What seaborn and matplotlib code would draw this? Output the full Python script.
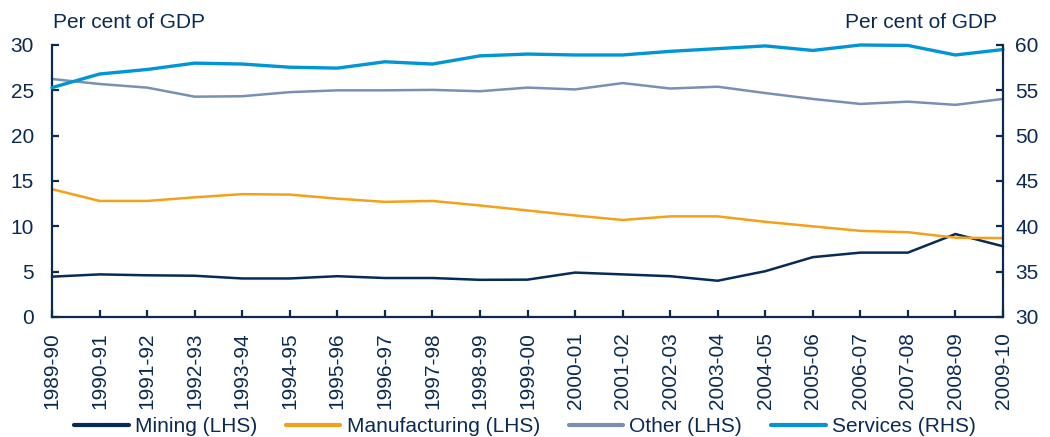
import matplotlib
matplotlib.use("Agg")
import matplotlib.pyplot as plt
import seaborn as sns
import numpy as np
import pandas as pd

years = ["1989-90", "1990-91", "1991-92", "1992-93", "1993-94", "1994-95", "1995-96",
         "1996-97", "1997-98", "1998-99", "1999-00", "2000-01", "2001-02", "2002-03",
         "2003-04", "2004-05", "2005-06", "2006-07", "2007-08", "2008-09", "2009-10"]
mining = [4.45, 4.7, 4.6, 4.55, 4.25, 4.25, 4.5, 4.3, 4.3, 4.1, 4.12, 4.9, 4.7, 4.5,
          4.0, 5.05, 6.6, 7.1, 7.1, 9.15, 7.8]
manufacturing = [14.1, 12.8, 12.8, 13.2, 13.55, 13.5, 13.05, 12.7, 12.8, 12.3, 11.75,
                 11.2, 10.7, 11.1, 11.1, 10.5, 10.0, 9.5, 9.35, 8.75, 8.7]
other = [26.25, 25.7, 25.3, 24.3, 24.35, 24.8, 25.0, 25.0, 25.05, 24.9, 25.3, 25.1,
         25.8, 25.2, 25.4, 24.7, 24.05, 23.5, 23.75, 23.4, 24.05]
services = [55.3, 56.8, 57.3, 58.0, 57.9, 57.55, 57.45, 58.15, 57.9, 58.8, 59.0, 58.9,
            58.9, 59.3, 59.6, 59.9, 59.4, 60.0, 59.95, 58.9, 59.5]

lhs_ticks = [0, 5, 10, 15, 20, 25, 30]
rhs_ticks = [30, 35, 40, 45, 50, 55, 60]

NAVY = "#0B2A52"
C_MIN = "#062B57"
C_MAN = "#F6A01A"
C_OTH = "#7A90B2"
C_SER = "#0096D6"

sns.set_theme(style="white")
plt.rcParams["font.family"] = ["Liberation Sans", "DejaVu Sans"]
plt.rcParams["text.color"] = NAVY

df = pd.DataFrame({"x": np.arange(len(years)), "Mining": mining,
                   "Manufacturing": manufacturing, "Other": other, "Services": services})

fig = plt.figure(figsize=(10.5, 4.37), dpi=100)
ax = fig.add_axes([52 / 1050, 1 - 317 / 437, (1003 - 52) / 1050, (317 - 45) / 437])
ax2 = ax.twinx()

sns.lineplot(data=df, x="x", y="Mining", ax=ax, color=C_MIN, lw=1.8, label="Mining (LHS)", legend=False)
sns.lineplot(data=df, x="x", y="Manufacturing", ax=ax, color=C_MAN, lw=1.8, label="Manufacturing (LHS)", legend=False)
sns.lineplot(data=df, x="x", y="Other", ax=ax, color=C_OTH, lw=1.8, label="Other (LHS)", legend=False)
sns.lineplot(data=df, x="x", y="Services", ax=ax2, color=C_SER, lw=2.4, label="Services (RHS)", legend=False)
for ln in ax.get_lines() + ax2.get_lines():
    ln.set_clip_on(False)

ax.set_xlim(0, len(years) - 1)
ax.set_ylim(0, 30)
ax2.set_ylim(30, 60)
ax.set_yticks(lhs_ticks)
ax2.set_yticks(rhs_ticks)
ax.set_xticks(np.arange(len(years)))
ax.set_xticklabels(years, rotation=90, va="top", ha="center")
ax.set_xlabel("")
ax.set_ylabel("")
ax2.set_ylabel("")

for a in (ax, ax2):
    a.patch.set_visible(False)
    a.grid(False)
    for s in a.spines.values():
        s.set_color(NAVY)
        s.set_linewidth(1.6)
    a.spines["top"].set_visible(False)

ax.spines["right"].set_visible(False)
ax2.spines["left"].set_visible(False)
ax2.spines["bottom"].set_visible(False)

ax.tick_params(axis="x", direction="in", length=5, width=1.6, color=NAVY,
               labelsize=15, labelcolor=NAVY, pad=11, bottom=True)
ax.tick_params(axis="y", direction="in", length=5, width=1.6, color=NAVY,
               labelsize=15, labelcolor=NAVY, pad=13, left=True)
ax2.tick_params(axis="y", direction="in", length=5, width=1.6, color=NAVY,
                labelsize=15, labelcolor=NAVY, pad=9, right=True)

fig.text(53 / 1050, 1 - 22 / 437, "Per cent of GDP", ha="left", va="center", fontsize=15, color=NAVY)
fig.text(997 / 1050, 1 - 22 / 437, "Per cent of GDP", ha="right", va="center", fontsize=15, color=NAVY)

h1, l1 = ax.get_legend_handles_labels()
h2, l2 = ax2.get_legend_handles_labels()
leg = fig.legend(h1 + h2, l1 + l2, loc="center", bbox_to_anchor=(0.5, 1 - 427 / 437),
                 ncol=4, frameon=False, fontsize=15, handlelength=2.6, handletextpad=0.3,
                 columnspacing=1.4, borderaxespad=0, borderpad=0)
for t in leg.get_texts():
    t.set_color(NAVY)
for lh in leg.get_lines():
    lh.set_linewidth(3)

fig.savefig("out.png", dpi=100)
